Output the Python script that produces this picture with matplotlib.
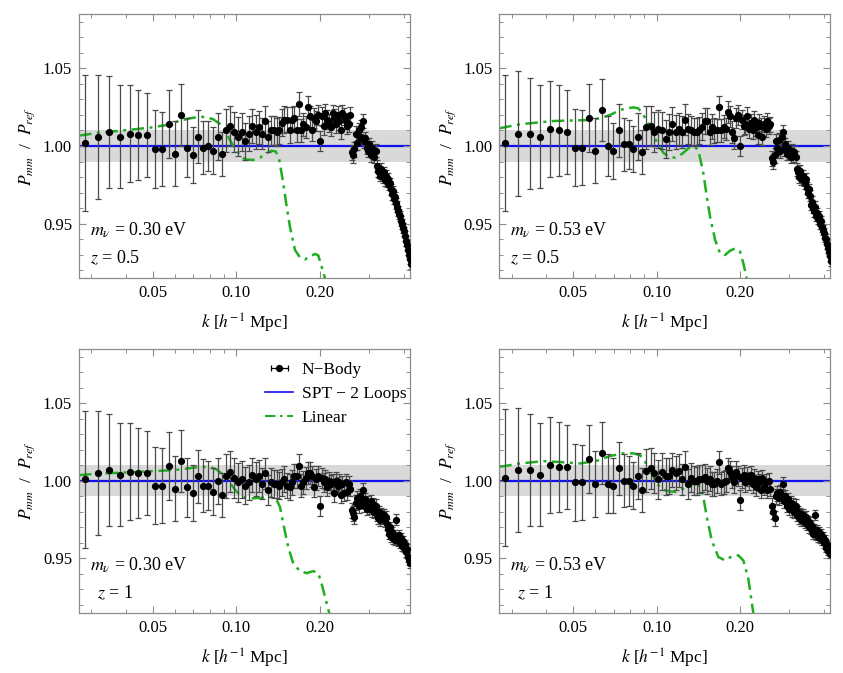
import numpy as np
import matplotlib
matplotlib.use("Agg")
import matplotlib.pyplot as plt
from matplotlib.lines import Line2D
from matplotlib.ticker import FixedLocator, NullFormatter

plt.rcParams['font.family'] = ['Liberation Serif', 'DejaVu Serif']
plt.rcParams['mathtext.fontset'] = 'stix'

# wavenumbers of the N-body bins (h/Mpc)
k = [0.02853, 0.03170, 0.03487, 0.03804, 0.04121, 0.04438, 0.04755, 0.05072, 0.05389, 0.05706,
     0.06023, 0.06340, 0.06657, 0.06974, 0.07291, 0.07608, 0.07925, 0.08242, 0.08559, 0.08876,
     0.09193, 0.09510, 0.09827, 0.10144, 0.10461, 0.10778, 0.11095, 0.11412, 0.11729, 0.12046,
     0.12363, 0.12680, 0.12997, 0.13314, 0.13631, 0.13948, 0.14265, 0.14582, 0.14899, 0.15216,
     0.15533, 0.15850, 0.16167, 0.16484, 0.16801, 0.17118, 0.17435, 0.17752, 0.18069, 0.18386,
     0.18703, 0.19020, 0.19337, 0.19654, 0.19971, 0.20288, 0.20605, 0.20922, 0.21239, 0.21556,
     0.21873, 0.22190, 0.22507, 0.22824, 0.23141, 0.23458, 0.23775, 0.24092, 0.24409, 0.24726,
     0.25043, 0.25360, 0.25677, 0.25994, 0.26311, 0.26628, 0.26945, 0.27262, 0.27579, 0.27896,
     0.28213, 0.28530, 0.28847, 0.29164, 0.29481, 0.29798, 0.30115, 0.30432, 0.30749, 0.31066,
     0.31383, 0.31700, 0.32017, 0.32334, 0.32651, 0.32968, 0.33285, 0.33602, 0.33919, 0.34236,
     0.34553, 0.34870, 0.35187, 0.35504, 0.35821, 0.36138, 0.36455, 0.36772, 0.37089, 0.37406,
     0.37723, 0.38040, 0.38357, 0.38674, 0.38991, 0.39308, 0.39625, 0.39942, 0.40259, 0.40576,
     0.40893, 0.41210, 0.41527, 0.41844, 0.42161, 0.42478]

err = [0.044, 0.040, 0.036, 0.033, 0.031, 0.029, 0.027, 0.025, 0.024, 0.022,
       0.021, 0.020, 0.019, 0.018, 0.017, 0.017, 0.016, 0.015, 0.015, 0.014,
       0.014, 0.013, 0.013, 0.0125, 0.012, 0.012, 0.0115, 0.011, 0.011, 0.0105,
       0.010, 0.010, 0.0098, 0.0095, 0.0093, 0.0091, 0.0089, 0.0087, 0.0085, 0.0083,
       0.0082, 0.0080, 0.0078, 0.0077, 0.0075, 0.0074, 0.0073, 0.0071, 0.0070, 0.0069,
       0.0068, 0.0067, 0.0066, 0.0065, 0.0064, 0.0063, 0.0062, 0.0061, 0.0060, 0.0059,
       0.0058, 0.0057, 0.0056, 0.0056, 0.0055, 0.0054, 0.0053, 0.0053, 0.0052, 0.0051,
       0.0051, 0.0050, 0.0049, 0.0049, 0.0048, 0.0048, 0.0047, 0.0047, 0.0046, 0.0046,
       0.0045, 0.0044, 0.0044, 0.0043, 0.0043, 0.0043, 0.0042, 0.0042, 0.0041, 0.0041,
       0.0040, 0.0040, 0.0040, 0.0039, 0.0039, 0.0038, 0.0038, 0.0038, 0.0037, 0.0037,
       0.0037, 0.0036, 0.0036, 0.0036, 0.0035, 0.0035, 0.0035, 0.0034, 0.0034, 0.0034,
       0.0034, 0.0033, 0.0033, 0.0033, 0.0032, 0.0032, 0.0032, 0.0032, 0.0031, 0.0031,
       0.0031, 0.0031, 0.0030, 0.0030, 0.0030, 0.0030]

ratio_030_z05 = [1.002, 1.006, 1.009, 1.006, 1.008, 1.007, 1.007, 0.998, 0.998, 1.014,
                 0.995, 1.020, 0.999, 0.994, 1.006, 0.999, 1.000, 0.997, 1.006, 0.995,
                 1.010, 1.013, 1.009, 1.006, 1.009, 1.003, 1.008, 1.013, 1.009, 1.012,
                 1.008, 1.016, 1.006, 1.010, 1.010, 1.009, 1.010, 1.015, 1.017, 1.017,
                 1.010, 1.017, 1.018, 1.010, 1.027, 1.010, 1.014, 1.012, 1.025, 1.019,
                 1.010, 1.018, 1.016, 1.020, 1.003, 1.019, 1.013, 1.021, 1.017, 1.015,
                 1.012, 1.021, 1.018, 1.014, 1.020, 1.016, 1.010, 1.021, 1.019, 1.016,
                 1.013, 1.014, 1.020, 0.996, 0.994, 0.998, 1.008, 1.002, 1.010, 1.006,
                 1.012, 1.016, 1.003, 1.005, 0.999, 0.997, 1.001, 0.994, 0.999, 0.996,
                 0.993, 0.997, 0.987, 0.984, 0.983, 0.981, 0.985, 0.980, 0.983, 0.978,
                 0.981, 0.977, 0.979, 0.975, 0.976, 0.972, 0.969, 0.971, 0.966, 0.967,
                 0.963, 0.961, 0.958, 0.956, 0.955, 0.952, 0.950, 0.947, 0.945, 0.942,
                 0.939, 0.936, 0.933, 0.930, 0.927, 0.924]

ratio_053_z05 = [1.002, 1.008, 1.008, 1.006, 1.011, 1.010, 1.009, 0.999, 0.999, 1.018,
                 0.997, 1.023, 1.000, 0.997, 1.010, 1.001, 1.001, 0.998, 1.006, 0.996,
                 1.012, 1.013, 1.009, 1.011, 1.010, 1.0045, 1.009, 1.014, 1.009, 1.011,
                 1.009, 1.017, 1.011, 1.010, 1.009, 1.009, 1.010, 1.0125, 1.016, 1.016,
                 1.009, 1.0125, 1.010, 1.010, 1.025, 1.010, 1.0125, 1.011, 1.022, 1.019,
                 1.009, 1.005, 1.018, 1.020, 1.000, 1.017, 1.013, 1.014, 1.019, 1.011,
                 1.015, 1.010, 1.017, 1.012, 1.007, 1.015, 1.013, 1.006, 1.014, 1.011,
                 1.016, 1.013, 1.014, 0.992, 0.990, 0.994, 1.003, 0.999, 1.004, 0.997,
                 1.006, 1.009, 0.998, 1.001, 0.995, 0.999, 0.996, 0.993, 0.997, 0.994,
                 0.996, 0.993, 0.985, 0.983, 0.980, 0.984, 0.979, 0.981, 0.978, 0.976,
                 0.979, 0.973, 0.970, 0.972, 0.968, 0.962, 0.964, 0.960, 0.958, 0.961,
                 0.955, 0.957, 0.953, 0.955, 0.950, 0.952, 0.948, 0.946, 0.944, 0.941,
                 0.940, 0.937, 0.934, 0.932, 0.929, 0.926]

ratio_030_z1 = [1.001, 1.005, 1.007, 1.004, 1.006, 1.005, 1.005, 0.997, 0.997, 1.0095,
                0.995, 1.013, 0.996, 0.992, 1.003, 0.997, 0.997, 0.993, 1.000, 0.991,
                1.003, 1.006, 1.002, 0.999, 1.001, 0.997, 0.999, 1.004, 1.001, 1.003,
                0.998, 1.005, 0.994, 0.999, 0.998, 0.998, 0.997, 0.999, 1.001, 0.997,
                0.996, 0.999, 1.003, 1.003, 1.0095, 0.997, 0.999, 1.002, 1.005, 1.005,
                1.003, 0.996, 1.001, 1.003, 0.984, 1.002, 0.999, 1.001, 0.996, 1.000,
                0.998, 0.999, 0.992, 1.000, 0.997, 0.999, 0.991, 0.998, 0.992, 0.999,
                0.993, 0.998, 0.995, 0.981, 0.979, 0.977, 0.986, 0.989, 0.984, 0.990,
                0.987, 0.994, 0.984, 0.988, 0.982, 0.986, 0.983, 0.987, 0.981, 0.985,
                0.980, 0.984, 0.978, 0.976, 0.980, 0.975, 0.979, 0.976, 0.978, 0.974,
                0.977, 0.972, 0.969, 0.966, 0.970, 0.964, 0.967, 0.963, 0.965, 0.962,
                0.975, 0.964, 0.961, 0.965, 0.960, 0.963, 0.958, 0.961, 0.957, 0.959,
                0.954, 0.956, 0.951, 0.949, 0.947, 0.948]

ratio_053_z1 = [1.002, 1.007, 1.007, 1.004, 1.010, 1.009, 1.009, 0.999, 0.999, 1.014,
                0.998, 1.018, 0.998, 0.997, 1.008, 1.000, 1.000, 0.997, 1.003, 0.994,
                1.0065, 1.008, 1.005, 1.001, 1.006, 1.003, 1.003, 1.007, 1.005, 1.0065,
                1.001, 1.009, 0.998, 1.002, 1.000, 1.000, 1.001, 1.0015, 1.0025, 1.000,
                1.0015, 0.998, 0.998, 1.000, 1.012, 0.998, 0.999, 1.000, 1.008, 1.006,
                1.0025, 0.999, 1.006, 1.003, 0.9875, 1.002, 1.004, 0.999, 1.003, 1.000,
                1.004, 0.998, 1.002, 0.996, 1.001, 0.999, 0.994, 1.002, 0.996, 0.999,
                0.994, 1.000, 0.995, 0.984, 0.980, 0.976, 0.990, 0.992, 0.989, 0.993,
                0.990, 0.998, 0.987, 0.990, 0.984, 0.988, 0.982, 0.986, 0.981, 0.985,
                0.980, 0.984, 0.978, 0.980, 0.976, 0.979, 0.975, 0.978, 0.976, 0.973,
                0.977, 0.972, 0.974, 0.970, 0.973, 0.969, 0.971, 0.966, 0.969, 0.978,
                0.965, 0.968, 0.964, 0.967, 0.963, 0.966, 0.962, 0.964, 0.960, 0.962,
                0.957, 0.959, 0.955, 0.957, 0.953, 0.955]

# linear-theory curves (k, ratio)
lin_k_030_z05 = [0.0271, 0.0322, 0.0350, 0.0425, 0.0488, 0.0560, 0.0626, 0.0680, 0.0739, 0.0781,
                 0.0825, 0.0872, 0.0909, 0.0947, 0.0988, 0.1029, 0.1073, 0.1150, 0.1215, 0.1285,
                 0.1339, 0.1388, 0.1427, 0.1475, 0.1517, 0.1559, 0.1626, 0.1694, 0.1766, 0.1841,
                 0.1918, 0.1971, 0.2028, 0.2084, 0.2115]
lin_v_030_z05 = [1.0067, 1.0086, 1.0092, 1.0107, 1.0118, 1.0135, 1.0163, 1.0178, 1.0189, 1.0185,
                 1.0172, 1.0142, 1.0103, 1.0039, 0.9985, 0.9942, 0.9914, 0.9910, 0.9925, 0.9953,
                 0.9970, 0.9964, 0.9910, 0.9760, 0.9610, 0.9480, 0.9330, 0.9283, 0.9270, 0.9288,
                 0.9305, 0.9296, 0.9223, 0.9150, 0.9050]

lin_k_053_z05 = [0.0271, 0.0322, 0.0425, 0.0560, 0.0626, 0.0680, 0.0739, 0.0781, 0.0825, 0.0860,
                 0.0896, 0.0934, 0.0974, 0.1015, 0.1058, 0.1103, 0.1166, 0.1233, 0.1302, 0.1357,
                 0.1414, 0.1475, 0.1517, 0.1559, 0.1626, 0.1694, 0.1766, 0.1841, 0.1918, 0.2000,
                 0.2055, 0.2114, 0.2145]
lin_v_053_z05 = [1.0114, 1.0140, 1.0161, 1.0167, 1.0178, 1.0200, 1.0232, 1.0242, 1.0249, 1.0242,
                 1.0200, 1.0146, 1.0071, 1.0006, 0.9957, 0.9931, 0.9925, 0.9948, 0.9985, 1.0000,
                 0.9974, 0.9824, 0.9674, 0.9545, 0.9395, 0.9309, 0.9298, 0.9326, 0.9340, 0.9320,
                 0.9245, 0.9148, 0.9050]

lin_k_030_z1 = [0.0271, 0.0322, 0.0425, 0.0560, 0.0626, 0.0680, 0.0739, 0.0803, 0.0849, 0.0884,
                0.0922, 0.0961, 0.1002, 0.1058, 0.1119, 0.1215, 0.1321, 0.1388, 0.1435, 0.1475,
                0.1537, 0.1603, 0.1694, 0.1791, 0.1893, 0.1971, 0.2028, 0.2102, 0.2160, 0.2190]
lin_v_030_z1 = [1.0037, 1.0047, 1.0056, 1.0067, 1.0073, 1.0082, 1.0090, 1.0090, 1.0073, 1.0047,
                1.0015, 0.9972, 0.9929, 0.9897, 0.9886, 0.9890, 0.9897, 0.9886, 0.9832, 0.9724,
                0.9573, 0.9466, 0.9418, 0.9405, 0.9418, 0.9405, 0.9336, 0.9228, 0.9147, 0.9050]

lin_k_053_z1 = [0.0271, 0.0322, 0.0391, 0.0449, 0.0530, 0.0609, 0.0680, 0.0759, 0.0825, 0.0872,
                0.0909, 0.0947, 0.0988, 0.1029, 0.1088, 0.1166, 0.1249, 0.1339, 0.1414, 0.1467,
                0.1517, 0.1581, 0.1670, 0.1766, 0.1866, 0.1971, 0.2055, 0.2142, 0.2233, 0.2260]
lin_v_053_z1 = [1.0090, 1.0112, 1.0127, 1.0121, 1.0112, 1.0129, 1.0160, 1.0177, 1.0177, 1.0166,
                1.0123, 1.0069, 1.0004, 0.9957, 0.9935, 0.9929, 0.9950, 0.9978, 0.9978, 0.9918,
                0.9767, 0.9616, 0.9509, 0.9487, 0.9513, 0.9520, 0.9487, 0.9369, 0.9147, 0.9050]

panels = [
    (ratio_030_z05, lin_k_030_z05, lin_v_030_z05, "0.30", "0.5"),
    (ratio_053_z05, lin_k_053_z05, lin_v_053_z05, "0.53", "0.5"),
    (ratio_030_z1, lin_k_030_z1, lin_v_030_z1, "0.30", "1"),
    (ratio_053_z1, lin_k_053_z1, lin_v_053_z1, "0.53", "1"),
]

W, H = 843, 673
fig = plt.figure(figsize=(W / 100, H / 100), dpi=100)
rects = [(79, 14, 410, 278), (499.3, 14, 830, 278),
         (79, 349, 410, 612.7), (499.3, 349, 830, 612.7)]

frame_col = '#8c8c8c'
green = '#1fae1f'
for i, ((vals, lk, lv, mnu, z), (x0, y0, x1, y1)) in enumerate(zip(panels, rects)):
    ax = fig.add_axes([x0 / W, 1 - y1 / H, (x1 - x0) / W, (y1 - y0) / H])
    ax.set_xscale('log')
    ax.set_xlim(0.0271, 0.422)
    ax.set_ylim(0.915, 1.085)
    ax.axhspan(0.99, 1.01, color='#d9d9d9', lw=0, zorder=0)
    ax.axhline(1.0, color='#1010ee', lw=1.6, zorder=1)
    ax.plot(lk, lv, color=green, lw=1.8, dashes=(5, 2.2, 1.2, 2.2), zorder=2)
    ax.errorbar(k, vals, yerr=err, fmt='o', color='black', ms=4.2,
                ecolor='#4a4a4a', elinewidth=0.9, capsize=2.2, capthick=0.9, zorder=3)

    ax.xaxis.set_major_locator(FixedLocator([0.05, 0.1, 0.2]))
    ax.xaxis.set_minor_locator(FixedLocator([0.03, 0.04, 0.06, 0.07, 0.08, 0.09, 0.3, 0.4]))
    ax.set_xticklabels(['0.05', '0.10', '0.20'])
    ax.xaxis.set_minor_formatter(NullFormatter())
    ax.yaxis.set_major_locator(FixedLocator([0.95, 1.00, 1.05]))
    ax.yaxis.set_minor_locator(FixedLocator([0.92, 0.93, 0.94, 0.96, 0.97, 0.98, 0.99,
                                             1.01, 1.02, 1.03, 1.04, 1.06, 1.07, 1.08]))
    ax.set_yticklabels(['0.95', '1.00', '1.05'])
    ax.tick_params(which='both', direction='in', top=True, right=True, color=frame_col,
                   labelsize=12, pad=5)
    ax.tick_params(which='major', length=5, width=0.8)
    ax.tick_params(which='minor', length=3, width=0.7)
    for s in ax.spines.values():
        s.set_color(frame_col)
        s.set_linewidth(0.9)

    ax.set_xlabel(r'$k$ [$h^{-1}$ Mpc]', fontsize=12.5, labelpad=8)
    ax.set_ylabel(r'$P_{mm}$  /  $P_{ref}$', fontsize=12.5, labelpad=4)

    ax.text(0.033, 0.18, r'$m_{\nu}$ = ' + mnu + ' eV', transform=ax.transAxes,
            fontsize=13, va='center', ha='left')
    zx = 0.033 if z == "0.5" else 0.055
    ax.text(zx, 0.076, r'$z$ = ' + z, transform=ax.transAxes,
            fontsize=13, va='center', ha='left')

    if i == 2:
        h_nb = ax.errorbar([np.nan], [np.nan], xerr=[[1.0], [1.0]], fmt='o', color='black',
                           ms=4.2, ecolor='black', elinewidth=0.9, capsize=2.5, capthick=0.9)
        h_spt = Line2D([], [], color='#1010ee', lw=1.2)
        h_lin = Line2D([], [], color=green, lw=1.5, dashes=(5, 2.2, 1.2, 2.2))
        ax.legend([h_nb, h_spt, h_lin], ['N\u2212Body', 'SPT \u2212 2 Loops', 'Linear'],
                  loc='upper left', bbox_to_anchor=(0.516, 1.009), frameon=False,
                  fontsize=12.5, handlelength=1.6, handletextpad=0.5, labelspacing=0.45)

fig.savefig('out.png', dpi=100)
